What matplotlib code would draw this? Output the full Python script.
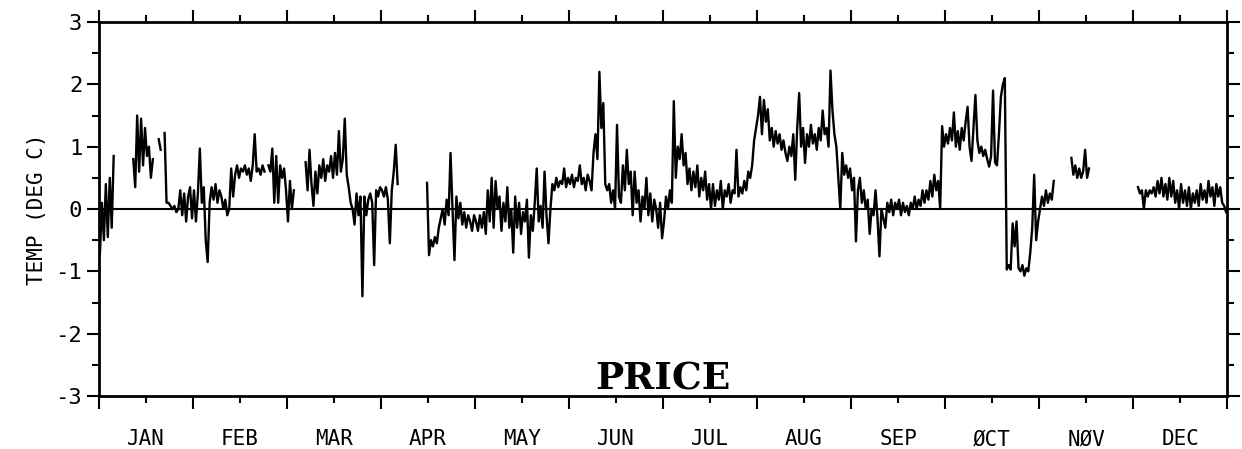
import numpy as np
import matplotlib.pyplot as plt

plt.rcParams['axes.unicode_minus'] = False

nan = np.nan

# temperature anomaly (deg C), 48 readings per month
jan = [-0.7, 0.1, -0.5, 0.4, -0.45, 0.5, -0.3, 0.85,
       nan, nan, nan, nan, nan, nan, nan, nan, nan,
       0.8, 0.35, 1.5, 0.6, 1.45, 0.7, 1.3, 0.85, 1.0, 0.5, 0.8,
       nan, nan, 1.12, 0.95, nan,
       1.22, 0.1, 0.1, 0.05, 0.0, 0.05, -0.05, 0.0, 0.3, -0.1, 0.25, -0.2, 0.2, 0.35, -0.15]
feb = [0.3, -0.2, 0.25, 0.97, 0.1, 0.35, -0.5, -0.85, 0.1, 0.35, 0.15, 0.4, 0.1, 0.3, 0.2, 0.0,
       0.15, -0.1, 0.0, 0.65, 0.2, 0.55, 0.7, 0.5, 0.65, 0.6, 0.7, 0.55, 0.65, 0.45, 0.7, 1.2,
       0.6, 0.65, 0.55, 0.7, 0.6, nan, 0.7, 0.6, 0.97, 0.1, 0.85, 0.1, 0.7, 0.5, 0.65, 0.3]
mar = [-0.2, 0.45, 0.0, 0.3, nan, nan, nan, nan, nan,
       0.75, 0.3, 0.95, 0.4, 0.05, 0.6, 0.25, 0.7, 0.5, 0.8, 0.45, 0.7, 0.6, 0.85, 0.5, 0.9,
       0.55, 1.25, 0.6, 0.8, 1.45, 0.55, 0.35, 0.1, 0.0, -0.25, 0.25, -0.1, 0.2, -1.4,
       0.2, -0.1, 0.15, 0.25, 0.1, -0.9, 0.3, 0.2, 0.35]
apr = [0.3, 0.2, 0.35, 0.15, -0.55, 0.3, 0.6, 1.03, 0.4,
       nan, nan, nan, nan, nan, nan, nan, nan, nan, nan, nan, nan, nan, nan,
       0.42, -0.74, -0.5, -0.6, -0.45, -0.55, -0.3, -0.15, 0.0, -0.25, 0.15, -0.1, 0.9, 0.0,
       -0.82, 0.2, -0.15, 0.1, -0.25, -0.05, -0.3, -0.1, -0.2, -0.35, -0.1]
may = [-0.2, -0.35, -0.1, -0.3, -0.05, -0.4, 0.3, -0.2, 0.5, -0.3, 0.45, 0.0, 0.2, -0.35, 0.1, -0.2,
       0.35, -0.3, 0.0, -0.7, 0.2, -0.3, 0.1, -0.4, -0.05, -0.2, 0.15, -0.78, -0.1, -0.35, 0.1, 0.65,
       -0.2, 0.05, -0.3, 0.6, -0.1, -0.55, 0.0, 0.4, 0.3, 0.5, 0.35, 0.45, 0.4, 0.65, 0.35, 0.5]
jun = [0.4, 0.55, 0.35, 0.5, 0.45, 0.7, 0.4, 0.5, 0.3, 0.55, 0.45, 0.3, 0.9, 1.2, 0.8, 2.2,
       1.3, 1.7, 0.4, 0.3, 0.4, 0.1, 0.3, 0.0, 1.35, 0.2, 0.1, 0.7, 0.3, 0.95, 0.4, 0.6,
       -0.1, 0.6, 0.1, 0.3, -0.2, 0.2, 0.0, 0.5, -0.1, 0.25, -0.2, 0.15, 0.0, -0.3, 0.1, -0.47]
jul = [-0.2, 0.2, 0.0, 0.3, 0.1, 1.73, 0.5, 1.0, 0.8, 1.2, 0.7, 0.9, 0.4, 0.65, 0.3, 0.6,
       0.35, 0.7, 0.2, 0.5, 0.3, 0.6, 0.15, 0.4, 0.0, 0.4, 0.05, 0.3, 0.15, 0.45, 0.0, 0.3,
       0.2, 0.4, 0.1, 0.3, 0.25, 0.95, 0.2, 0.35, 0.25, 0.45, 0.3, 0.6, 0.5, 0.7, 1.1, 1.3]
aug = [1.5, 1.8, 1.2, 1.75, 1.4, 1.6, 1.1, 1.3, 1.0, 1.25, 1.05, 1.2, 0.95, 1.1, 0.9, 0.77,
       1.0, 0.85, 1.2, 0.47, 1.3, 1.86, 1.0, 1.3, 0.74, 1.2, 1.0, 1.35, 1.05, 1.2, 0.95, 1.3,
       1.1, 1.58, 1.2, 1.3, 1.0, 2.22, 1.58, 1.2, 1.0, 0.5, 0.0, 0.9, 0.55, 0.7, 0.5, 0.65]
sep = [0.3, 0.5, -0.52, 0.3, 0.5, 0.1, 0.3, 0.0, 0.15, -0.4, 0.0, -0.1, 0.3, -0.15, -0.76, 0.0,
       -0.15, -0.3, 0.1, -0.05, 0.15, -0.1, 0.1, 0.0, 0.15, -0.1, 0.1, -0.05, 0.05, -0.1, 0.1, 0.0,
       0.2, 0.0, 0.15, 0.05, 0.3, 0.1, 0.3, 0.15, 0.45, 0.2, 0.55, 0.3, 0.45, 0.0, 1.33, 1.0]
oct_ = [1.2, 1.05, 1.3, 1.1, 1.55, 1.0, 1.25, 0.95, 1.3, 1.1, 1.4, 1.64, 1.0, 0.77, 1.3, 1.83,
        1.1, 0.9, 1.0, 0.85, 0.95, 0.8, 0.68, 0.85, 1.9, 0.75, 0.7, 1.2, 1.8, 2.0, 2.1, -0.97,
        -0.9, -0.97, -0.23, -0.6, -0.2, -0.95, -1.0, -0.9, -1.07, -0.95, -1.0, -0.7, -0.3, 0.55, -0.5, -0.2]
nov = [0.0, 0.2, 0.05, 0.3, 0.1, 0.25, 0.15, 0.45,
       nan, nan, nan, nan, nan, nan, nan, nan,
       0.82, 0.55, 0.7, 0.5, 0.65, 0.5, 0.6, 0.95, 0.5, 0.65,
       nan, nan, nan, nan, nan, nan, nan, nan, nan, nan, nan,
       nan, nan, nan, nan, nan, nan, nan, nan, nan, nan, nan]
dec = [nan, nan, 0.35, 0.25, 0.3, 0.0, 0.3, 0.2, 0.3, 0.25, 0.35, 0.2, 0.45, 0.25, 0.5, 0.2,
       0.4, 0.15, 0.5, 0.2, 0.45, 0.1, 0.3, 0.0, 0.4, 0.1, 0.3, 0.05, 0.35, 0.0, 0.25, 0.1,
       0.3, 0.05, 0.4, 0.15, 0.3, 0.1, 0.45, 0.2, 0.35, 0.05, 0.4, 0.2, 0.35, 0.1, 0.05, -0.05]

months = ['JAN', 'FEB', 'MAR', 'APR', 'MAY', 'JUN', 'JUL', 'AUG', 'SEP', 'ØCT', 'NØV', 'DEC']

temp = np.array(jan + feb + mar + apr + may + jun + jul + aug + sep + oct_ + nov + dec)
x = (np.arange(len(temp)) + 0.5) / 48.0

fig = plt.figure(figsize=(12.42, 4.49), dpi=100)
ax = fig.add_axes([0.0797, 0.118, 0.9083, 0.833])

ax.plot(x, temp, color='black', lw=1.7)
ax.axhline(0, color='black', lw=1.5)

ax.set_xlim(0, 12)
ax.set_ylim(-3, 3)

mono = 'DejaVu Sans Mono'
ax.set_xticks(np.arange(0, 13))
ax.set_xticklabels([])
ax.set_xticks(np.arange(12) + 0.5, minor=True)
ax.set_xticklabels(months, minor=True, fontsize=15, family=mono)
ax.set_yticks(np.arange(-3, 4))
ax.set_yticklabels([str(v) for v in range(-3, 4)], fontsize=16, family=mono)
ax.set_yticks(np.arange(-2.5, 3.0, 1.0), minor=True)

ax.tick_params(which='major', direction='out', length=9, width=1.5,
               top=True, right=True)
ax.tick_params(which='minor', direction='out', length=5, width=1.5,
               top=True, right=True)
ax.tick_params(axis='x', which='minor', pad=19)
ax.tick_params(axis='y', which='major', pad=3)

for s in ax.spines.values():
    s.set_linewidth(2)

ax.set_ylabel('TEMP (DEG C)', fontsize=15, family=mono, labelpad=6)
ax.text(6.0, -2.72, 'PRICE', ha='center', va='center', fontsize=27,
        fontweight='bold', family='DejaVu Serif')

fig.savefig('out.png', dpi=100)
